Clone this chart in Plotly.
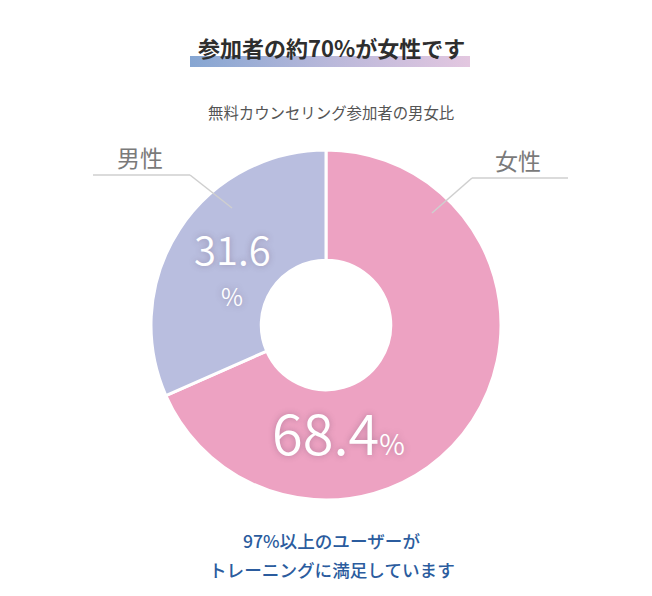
import plotly.graph_objects as go

# data
labels = ["女性", "男性"]
values = [68.4, 31.6]
slice_colors = ["#EDA2C2", "#B9BEDF"]

title_text = "参加者の約70%が女性です"
subtitle_text = "無料カウンセリング参加者の男女比"
footer_lines = ["97%以上のユーザーが", "トレーニングに満足しています"]

# the page body has an 8px margin, so the figure is drawn 8px smaller
OFF = 8
W, H = 652 - OFF, 596 - OFF
FONT = "Noto Sans CJK JP"


def px(x):
    return (x - OFF) / W


def py(y):
    return 1 - (y - OFF) / H


fig = go.Figure()

# donut
fig.add_trace(go.Pie(
    labels=labels,
    values=values,
    hole=0.37,
    sort=False,
    direction="clockwise",
    rotation=0,
    textinfo="none",
    hoverinfo="label+percent",
    marker=dict(colors=slice_colors, line=dict(color="white", width=3)),
    domain=dict(x=[px(151), px(501)], y=[py(500), py(150)]),
    showlegend=False,
))

# gradient underline under the title (overlay axes in pixel units)
fig.add_trace(go.Scatter(
    x=[190, 470, 470, 190, 190],
    y=[56, 56, 67, 67, 56],
    mode="lines",
    line=dict(width=0),
    fill="toself",
    fillgradient=dict(type="horizontal",
                      colorscale=[[0, "#86A6D2"], [0.5, "#B9B8DA"], [1, "#E3C7E0"]]),
    hoverinfo="skip",
    showlegend=False,
    xaxis="x", yaxis="y",
))

shadow = "0px 0px 6px rgba(90,60,90,0.35)"
annotations = [
    dict(x=px(331), y=py(47), text=f"<b>{title_text}</b>",
         font=dict(family=FONT, size=22, color="#2e2e2e")),
    dict(x=px(331), y=py(112), text=subtitle_text,
         font=dict(family=FONT, size=15.4, color="#555555")),
    # percentages
    dict(x=px(338), y=py(430),
         text=f"{values[0]}<span style='font-size:28px'>%</span>",
         font=dict(family=FONT, size=56, color="white", weight=350, shadow=shadow)),
    dict(x=px(232), y=py(248), text=f"{values[1]}",
         font=dict(family=FONT, size=40, color="white", weight=350, shadow=shadow)),
    dict(x=px(232), y=py(295), text="%",
         font=dict(family=FONT, size=24, color="white", weight=350, shadow=shadow)),
    # slice labels
    dict(x=px(518), y=py(160), text=labels[0],
         font=dict(family=FONT, size=23, color="#7a7a7a")),
    dict(x=px(140), y=py(157), text=labels[1],
         font=dict(family=FONT, size=23, color="#7a7a7a")),
    # footer
    dict(x=px(332), y=py(540), text=footer_lines[0],
         font=dict(family=FONT, size=17.6, color="#2B5C9E", weight=500)),
    dict(x=px(332), y=py(569), text=footer_lines[1],
         font=dict(family=FONT, size=17.6, color="#2B5C9E", weight=500)),
]
for a in annotations:
    a.update(xref="paper", yref="paper", showarrow=False,
             xanchor="center", yanchor="middle")

leader = dict(color="#cfcfcf", width=1.5)
shapes = [
    dict(type="line", x0=472, y0=178, x1=568, y1=178, line=leader),
    dict(type="line", x0=472, y0=178, x1=432, y1=213, line=leader),
    dict(type="line", x0=93, y0=175, x1=190, y1=175, line=leader),
    dict(type="line", x0=190, y0=175, x1=232, y1=208, line=leader),
]
for s in shapes:
    s.update(xref="x", yref="y", layer="above")

fig.update_layout(
    width=W, height=H,
    margin=dict(l=0, r=0, t=0, b=0),
    paper_bgcolor="white",
    plot_bgcolor="rgba(0,0,0,0)",
    xaxis=dict(range=[OFF, 652], visible=False, fixedrange=True, domain=[0, 1]),
    yaxis=dict(range=[596, OFF], visible=False, fixedrange=True, domain=[0, 1]),
    annotations=annotations,
    shapes=shapes,
    font=dict(family=FONT),
)

fig.write_html("out.html")
